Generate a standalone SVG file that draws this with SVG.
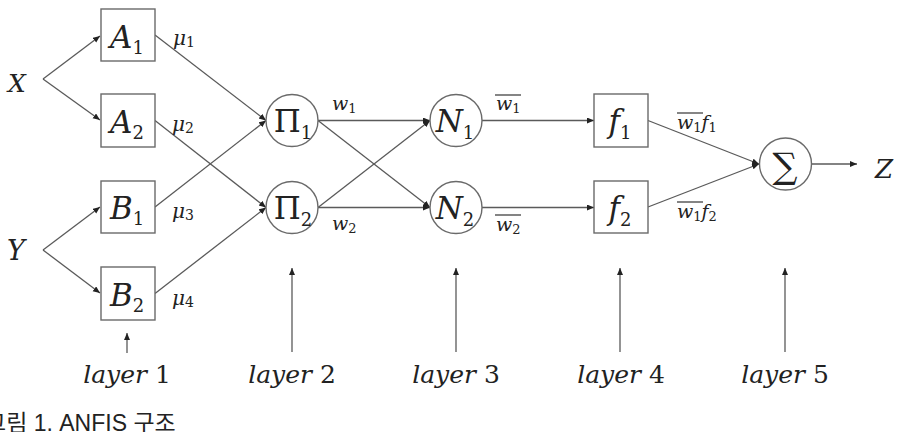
<svg xmlns="http://www.w3.org/2000/svg" width="908" height="432" viewBox="0 0 908 432">
<style>
.node{fill:#fff;stroke:#6a6a6a;stroke-width:1.4}
.edge{fill:none;stroke:#5a5a5a;stroke-width:1.3;marker-end:url(#ah)}
.bar{stroke:#333;stroke-width:1.2}
.m{font-family:"DejaVu Serif","Liberation Serif",serif;fill:#222}
.it{font-style:italic}
.lbl{font-size:31px}
.sub{font-size:18px}
.sm{font-size:20px}
.smsub{font-size:14px}
.lay{font-family:"DejaVu Serif","Liberation Serif",serif;font-size:25px;fill:#222}
.cap{font-family:"Liberation Sans","Noto Sans CJK KR",sans-serif;font-size:23px;fill:#222}
</style>
<defs>
<marker id="ah" markerUnits="userSpaceOnUse" markerWidth="8" markerHeight="7" refX="7" refY="3" orient="auto">
<path d="M0,0 L7,3 L0,6 z" fill="#222"/>
</marker>
</defs>
<g id="inputs">
<text class="m it" x="8" y="92" font-size="25">X</text>
<text class="m it" x="7" y="260" font-size="27">Y</text>
</g>
<g id="connectors">
<path class="edge" d="M43,79 L100,36"/>
<path class="edge" d="M43,79 L100,120"/>
<path class="edge" d="M43,250 L100,207"/>
<path class="edge" d="M43,250 L100,293"/>
<path class="edge" d="M155,35 L266,120.5"/>
<path class="edge" d="M155,120.5 L266,207.5"/>
<path class="edge" d="M155,207 L266,120.5"/>
<path class="edge" d="M155,293.5 L266,207.5"/>
<path class="edge" d="M318,120.5 L430,120.5"/>
<path class="edge" d="M318,120.5 L430,207.5"/>
<path class="edge" d="M318,207.5 L430,120.5"/>
<path class="edge" d="M318,207.5 L430,207.5"/>
<path class="edge" d="M482,120.5 L594,120.5"/>
<path class="edge" d="M482,207.5 L594,207.5"/>
<path class="edge" d="M648,120.5 L759,164"/>
<path class="edge" d="M648,207 L759,164"/>
<path class="edge" d="M812,164 L857,164"/>
<path class="edge" d="M127,353 L127,333"/>
<path class="edge" d="M292,352 L292,268"/>
<path class="edge" d="M456,352 L456,268"/>
<path class="edge" d="M620,352 L620,268"/>
<path class="edge" d="M785,352 L785,268"/>
</g>
<g id="A1"><rect class="node" x="101" y="9" width="54" height="52"/>
<text class="m lbl" x="127" y="48" text-anchor="middle"><tspan class="it">A</tspan><tspan class="sub" dy="6">1</tspan></text></g>
<g id="A2"><rect class="node" x="101" y="94" width="54" height="53"/>
<text class="m lbl" x="127" y="133" text-anchor="middle"><tspan class="it">A</tspan><tspan class="sub" dy="6">2</tspan></text></g>
<g id="B1"><rect class="node" x="101" y="181" width="54" height="52"/>
<text class="m lbl" x="127" y="219" text-anchor="middle"><tspan class="it">B</tspan><tspan class="sub" dy="6">1</tspan></text></g>
<g id="B2"><rect class="node" x="101" y="267" width="54" height="53"/>
<text class="m lbl" x="127" y="306" text-anchor="middle"><tspan class="it">B</tspan><tspan class="sub" dy="6">2</tspan></text></g>
<g id="Pi1"><circle class="node" cx="292" cy="120.5" r="26"/>
<text class="m lbl" x="293" y="132" text-anchor="middle">Π<tspan class="sub" dy="7">1</tspan></text></g>
<g id="Pi2"><circle class="node" cx="292" cy="207.5" r="26"/>
<text class="m lbl" x="293" y="219" text-anchor="middle">Π<tspan class="sub" dy="7">2</tspan></text></g>
<g id="N1"><circle class="node" cx="456" cy="120.5" r="26"/>
<text class="m lbl" x="455" y="132" text-anchor="middle"><tspan class="it">N</tspan><tspan class="sub" dy="7">1</tspan></text></g>
<g id="N2"><circle class="node" cx="456" cy="207.5" r="26"/>
<text class="m lbl" x="455" y="219" text-anchor="middle"><tspan class="it">N</tspan><tspan class="sub" dy="7">2</tspan></text></g>
<g id="f1"><rect class="node" x="594" y="94" width="54" height="53"/>
<text class="m lbl" x="620" y="132" text-anchor="middle"><tspan class="it">f</tspan><tspan class="sub" dy="7">1</tspan></text></g>
<g id="f2"><rect class="node" x="594" y="181" width="54" height="52"/>
<text class="m lbl" x="620" y="219" text-anchor="middle"><tspan class="it">f</tspan><tspan class="sub" dy="7">2</tspan></text></g>
<g id="Sigma"><circle class="node" cx="785.5" cy="164" r="26"/>
<text class="m" x="785" y="178" font-size="35" text-anchor="middle">∑</text></g>
<g id="output"><text class="m it" x="875" y="178" font-size="26">Z</text></g>
<g id="edge-labels">
<text class="m sm" x="173" y="45"><tspan class="it">μ</tspan><tspan class="smsub" dy="2">1</tspan></text>
<text class="m sm" x="172" y="131"><tspan class="it">μ</tspan><tspan class="smsub" dy="2">2</tspan></text>
<text class="m sm" x="172" y="218"><tspan class="it">μ</tspan><tspan class="smsub" dy="2">3</tspan></text>
<text class="m sm" x="172" y="305"><tspan class="it">μ</tspan><tspan class="smsub" dy="2">4</tspan></text>
<text class="m" x="332" y="110" font-size="19"><tspan class="it">w</tspan><tspan font-size="13" dy="3">1</tspan></text>
<text class="m" x="332" y="230" font-size="19"><tspan class="it">w</tspan><tspan font-size="13" dy="3">2</tspan></text>
<text class="m" x="496" y="110" font-size="19"><tspan class="it">w</tspan><tspan font-size="13" dy="3">1</tspan></text>
<line class="bar" x1="495" y1="95" x2="521" y2="95"/>
<text class="m" x="496" y="231" font-size="19"><tspan class="it">w</tspan><tspan font-size="13" dy="3">2</tspan></text>
<line class="bar" x1="495" y1="215" x2="521" y2="215"/>
<text class="m" x="677" y="129" font-size="19"><tspan class="it">w</tspan><tspan font-size="13" dy="3">1</tspan><tspan class="it" dy="-3">f</tspan><tspan font-size="13" dy="3">1</tspan></text>
<line class="bar" x1="677" y1="113" x2="703" y2="113"/>
<text class="m" x="677" y="218" font-size="19"><tspan class="it">w</tspan><tspan font-size="13" dy="3">1</tspan><tspan class="it" dy="-3">f</tspan><tspan font-size="13" dy="3">2</tspan></text>
<line class="bar" x1="677" y1="202" x2="703" y2="202"/>
</g>
<g id="layer-labels">
<text class="lay" x="127" y="383" text-anchor="middle"><tspan class="it">layer</tspan> 1</text>
<text class="lay" x="292" y="383" text-anchor="middle"><tspan class="it">layer</tspan> 2</text>
<text class="lay" x="456" y="383" text-anchor="middle"><tspan class="it">layer</tspan> 3</text>
<text class="lay" x="621" y="383" text-anchor="middle"><tspan class="it">layer</tspan> 4</text>
<text class="lay" x="785" y="383" text-anchor="middle"><tspan class="it">layer</tspan> 5</text>
</g>
<g id="caption"><text class="cap" x="-15" y="431">그림 1. ANFIS 구조</text></g>
</svg>
